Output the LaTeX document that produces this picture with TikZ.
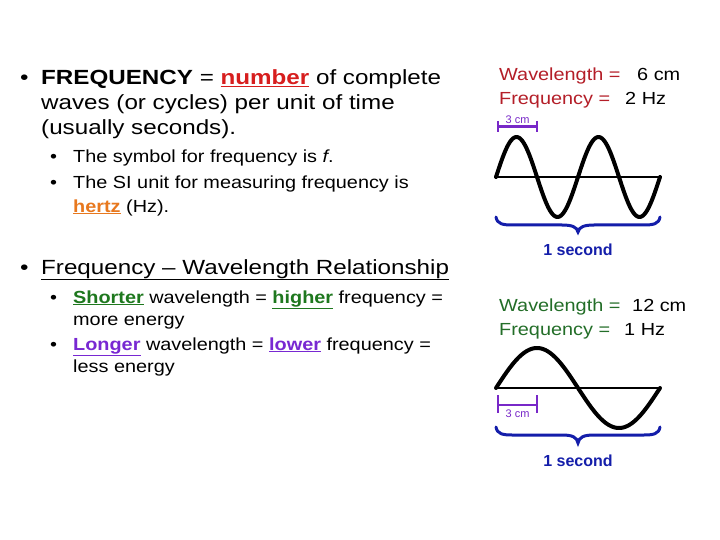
\documentclass[tikz,border=0pt]{standalone}
\usepackage{fontspec}
\setmainfont{Liberation Sans}
\newfontfamily\wideA{Liberation Sans}[FakeStretch=1.18]
\newfontfamily\wideB{Liberation Sans}[FakeStretch=1.135]
\definecolor{numred}{RGB}{215,30,30}
\definecolor{labred}{RGB}{180,30,40}
\definecolor{hzorange}{RGB}{232,120,30}
\definecolor{dgreen}{RGB}{30,120,30}
\definecolor{labgreen}{RGB}{35,110,40}
\definecolor{vpurple}{RGB}{120,40,210}
\definecolor{brpurple}{RGB}{120,40,200}
\definecolor{braceblue}{RGB}{20,30,170}
\begin{document}
\begin{tikzpicture}[x=1pt,y=-1pt,
  bigtxt/.style={anchor=base west,inner sep=0pt,font=\wideA\fontsize{20.5}{24}\selectfont},
  smalltxt/.style={anchor=base west,inner sep=0pt,font=\wideB\fontsize{17.5}{21}\selectfont},
  lab/.style={anchor=base west,inner sep=0pt,font=\wideB\fontsize{17.5}{21}\selectfont},
  wave/.style={line width=4pt,line cap=round,line join=round},
  axisline/.style={line width=2pt},
  bracket/.style={brpurple,line width=2.5pt},
  cmtext/.style={anchor=base,inner sep=0pt,font=\fontsize{11}{13}\selectfont,text=brpurple},
  bracetext/.style={anchor=base,inner sep=0pt,font=\fontsize{16}{19}\selectfont\bfseries,text=braceblue},
  bracebrace/.style={braceblue,line width=3pt,line cap=round}]
\useasboundingbox (0,0) rectangle (720,540);
\fill[white] (0,0) rectangle (720,540);
% left text
\node[bigtxt] (b1) at (20,85) {•};
\node[bigtxt] (t1a) at (41,85) {\textbf{FREQUENCY} = \textcolor{numred}{\textbf{\underline{number}}} of complete};
\node[bigtxt] (t1b) at (41,110) {waves (or cycles) per unit of time};
\node[bigtxt] (t1c) at (41,135) {(usually seconds).};
\node[smalltxt] (b2) at (50,163) {•};
\node[smalltxt] (t2) at (73,163) {The symbol for frequency is \textit{f}.};
\node[smalltxt] (b3) at (50,189) {•};
\node[smalltxt] (t3a) at (73,189) {The SI unit for measuring frequency is};
\node[smalltxt] (t3b) at (73,212) {\textcolor{hzorange}{\textbf{\underline{hertz}}} (Hz).};
\node[bigtxt] (b4) at (20,274) {•};
\node[bigtxt] (t4) at (41,274) {\underline{Frequency – Wavelength Relationship}};
\node[smalltxt] (b5) at (50,303) {•};
\node[smalltxt] (t5a) at (73,303) {\textcolor{dgreen}{\textbf{\underline{Shorter}}} wavelength = \textcolor{dgreen}{\textbf{\underline{higher}}} frequency =};
\node[smalltxt] (t5b) at (73,325) {more energy};
\node[smalltxt] (b6) at (50,350) {•};
\node[smalltxt] (t6a) at (73,350) {\textcolor{vpurple}{\textbf{\underline{Longer}}} wavelength = \textcolor{vpurple}{\textbf{\underline{lower}}} frequency =};
\node[smalltxt] (t6b) at (73,372) {less energy};
% top right labels
\node[lab,text=labred] (w1) at (499,81) {Wavelength =};
\node[lab] (w1v) at (637,81) {6 cm};
\node[lab,text=labred] (f1) at (499,105) {Frequency =};
\node[lab] (f1v) at (625,105) {2 Hz};
% top wave
\draw[axisline] (496,177) -- (660,177);
\draw[wave] plot[domain=496:660,samples=120,smooth] (\x,{177-40*sin(4.390244*(\x-496))});
\draw[bracket] (498,121) -- (498,132) (537,121) -- (537,132) (498,126.5) -- (537,126.5);
\node[cmtext] (c1) at (517.5,124) {3 cm};
\draw[bracebrace] (496,217) .. controls (497,224) and (503,225) .. (512,225) -- (562,225) .. controls (572,225) and (577,227) .. (578,232) .. controls (579,227) and (584,225) .. (594,225) -- (644,225) .. controls (653,225) and (659,224) .. (660,217);
\node[bracetext] (s1) at (578,255) {1 second};
% bottom right labels
\node[lab,text=labgreen] (w2) at (499,311) {Wavelength =};
\node[lab] (w2v) at (632,311) {12 cm};
\node[lab,text=labgreen] (f2) at (499,335) {Frequency =};
\node[lab] (f2v) at (624,335) {1 Hz};
% bottom wave
\draw[axisline] (496,388) -- (660,388);
\draw[wave] plot[domain=496:660,samples=120,smooth] (\x,{388-40*sin(2.195122*(\x-496))});
\draw[bracket] (498,395) -- (498,413) (537,395) -- (537,413) (498,405) -- (537,405);
\node[cmtext] (c2) at (517.5,417) {3 cm};
\draw[bracebrace] (496,427) .. controls (497,434) and (503,435) .. (512,435) -- (562,435) .. controls (572,435) and (577,437) .. (578,443) .. controls (579,437) and (584,435) .. (594,435) -- (644,435) .. controls (653,435) and (659,434) .. (660,427);
\node[bracetext] (s2) at (578,466) {1 second};
\end{tikzpicture}
\end{document}
